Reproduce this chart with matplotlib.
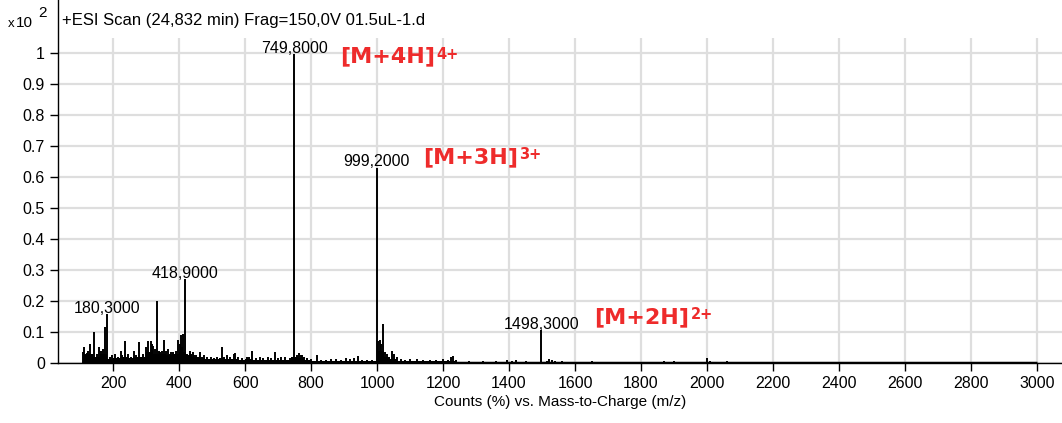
import matplotlib
matplotlib.use('Agg')
import matplotlib.pyplot as plt

# spectrum sticks (m/z, relative counts x10^2)
spike_mz = [110, 112, 117, 120, 125, 130, 136, 143, 150, 158, 163, 168, 176, 180.3,
            190, 198, 206, 214, 223, 228, 235, 241, 246, 255, 262, 270, 279, 286,
            291, 300, 307, 314, 318, 322, 328, 333, 338, 342, 348, 355, 360, 365,
            372, 377, 383, 390, 398, 402, 405, 409, 413, 418.9, 425, 432, 436, 441,
            446, 452, 457, 462, 470, 477, 485, 497, 505, 515, 529, 537, 545, 555,
            565, 570, 580, 592, 606, 613, 620, 632, 645, 655, 668, 680, 691, 700,
            710, 720, 735, 749.8, 756, 762, 768, 772, 780, 788, 800, 817, 830, 845,
            860, 875, 890, 905, 918, 930, 943, 955, 970, 985, 999.2, 1003, 1009,
            1013, 1017, 1024, 1030, 1037, 1044, 1050, 1060, 1072, 1085, 1100, 1120,
            1140, 1160, 1180, 1200, 1215, 1225, 1230, 1240, 1280, 1320, 1360, 1395,
            1410, 1420, 1450, 1498.3, 1515, 1522, 1530, 1540, 1560, 1600, 1650,
            1700, 1750, 1870, 1900, 2000, 2010, 2060]
spike_int = [0.035, 0.05, 0.03, 0.033, 0.04, 0.06, 0.025, 0.10, 0.03, 0.05, 0.04, 0.045, 0.116, 0.157,
             0.02, 0.025, 0.03, 0.02, 0.04, 0.025, 0.07, 0.02, 0.03, 0.02, 0.04, 0.025, 0.068, 0.02,
             0.03, 0.05, 0.07, 0.072, 0.06, 0.055, 0.045, 0.2, 0.04, 0.035, 0.04, 0.075, 0.04, 0.045,
             0.03, 0.035, 0.035, 0.04, 0.075, 0.06, 0.09, 0.05, 0.095, 0.27, 0.03, 0.04, 0.03, 0.035,
             0.025, 0.025, 0.02, 0.035, 0.02, 0.025, 0.02, 0.02, 0.015, 0.018, 0.05, 0.02, 0.025, 0.018,
             0.028, 0.032, 0.02, 0.015, 0.02, 0.018, 0.04, 0.015, 0.018, 0.015, 0.02, 0.015, 0.037, 0.015,
             0.018, 0.02, 0.015, 0.995, 0.025, 0.032, 0.025, 0.027, 0.02, 0.015, 0.012, 0.027, 0.01, 0.01,
             0.012, 0.012, 0.01, 0.015, 0.012, 0.015, 0.022, 0.01, 0.01, 0.01, 0.63, 0.07, 0.073,
             0.06, 0.125, 0.035, 0.03, 0.02, 0.038, 0.03, 0.02, 0.012, 0.01, 0.012, 0.012,
             0.01, 0.01, 0.01, 0.012, 0.01, 0.02, 0.022, 0.01, 0.006, 0.005, 0.005, 0.01,
             0.008, 0.01, 0.006, 0.105, 0.008, 0.012, 0.01, 0.006, 0.005, 0.004, 0.005,
             0.004, 0.004, 0.007, 0.008, 0.015, 0.006, 0.008]

# dense noise floor under the low mass region
floor_mz = [110, 130, 150, 170, 190, 210, 230, 250, 270, 290, 310, 330, 350, 370, 390,
            410, 430, 450, 470, 490, 510, 530, 550, 570, 590, 610, 630, 650, 670, 690,
            710, 730, 750, 770, 790, 810, 830, 850, 870, 890, 910, 930, 950, 970, 990,
            1010, 1030, 1050, 1070, 1090, 1110, 1130, 1150, 1170, 1190, 1210, 1230, 1250]
floor_int = [0.025, 0.03, 0.02, 0.03, 0.012, 0.015, 0.02, 0.015, 0.02, 0.02, 0.035, 0.03, 0.03, 0.025, 0.03,
             0.035, 0.025, 0.02, 0.015, 0.012, 0.012, 0.015, 0.012, 0.012, 0.01, 0.012, 0.01, 0.01, 0.01, 0.01,
             0.01, 0.01, 0.02, 0.015, 0.01, 0.008, 0.007, 0.006, 0.006, 0.006, 0.006, 0.006, 0.005, 0.005, 0.006,
             0.04, 0.02, 0.012, 0.006, 0.005, 0.005, 0.005, 0.005, 0.005, 0.005, 0.005, 0.008, 0.004]

scan_range = [110, 3000]

# labelled peaks
peak_mz = [180.3, 418.9, 749.8, 999.2, 1498.3]
peak_int = [0.157, 0.27, 0.995, 0.63, 0.105]

# charge state annotations
ion_names = ['[M+4H]', '[M+3H]', '[M+2H]']
ion_charges = ['4+', '3+', '2+']
ion_x = [888, 1139, 1658]
ion_y = [0.968, 0.645, 0.129]

xticks = list(range(200, 3001, 200))
yticks = [0, 0.1, 0.2, 0.3, 0.4, 0.5, 0.6, 0.7, 0.8, 0.9, 1]
ytick_labels = ['0', '0.1', '0.2', '0.3', '0.4', '0.5', '0.6', '0.7', '0.8', '0.9', '1']

plt.rcParams['font.family'] = ['Liberation Sans', 'DejaVu Sans']
fs = 11
red = '#ee2b2b'

fig = plt.figure(figsize=(10.62, 4.23), dpi=100)
ax = fig.add_axes([58 / 1062, 1 - 363 / 423, 1 - 58 / 1062, (363 - 38) / 423])

ax.fill_between(floor_mz, floor_int, step='mid', color='black', lw=0)
ax.vlines(spike_mz, 0, spike_int, color='black', lw=1.4)
ax.plot(scan_range, [0, 0], color='black', lw=2.5, solid_capstyle='butt')

for mz, h in zip(peak_mz, peak_int):
    lab = f'{mz:.4f}'.replace('.', ',')
    ax.annotate(lab, (mz, h), xytext=(0, -1), textcoords='offset points',
                ha='center', va='bottom', fontsize=11.5)

for name, ch, x, y in zip(ion_names, ion_charges, ion_x, ion_y):
    t = ax.text(x, y, name, color=red, fontsize=16, fontweight='bold',
                family='DejaVu Sans', ha='left', va='baseline')
    ax.annotate(ch, xy=(1, 1), xycoords=t, xytext=(1, 0), textcoords='offset points',
                ha='left', va='top', color=red, fontsize=10.5, fontweight='bold',
                family='DejaVu Sans')

ax.set_xlim(33, 3076)
ax.set_ylim(0, 1.048)
ax.set_xticks(xticks)
ax.set_yticks(yticks)
ax.set_yticklabels(ytick_labels)
ax.tick_params(labelsize=11.5, length=6, width=1, direction='out', color='black')
ax.grid(True, color='#dedede', lw=1.6)
ax.set_axisbelow(True)

for s in ['top', 'right']:
    ax.spines[s].set_visible(False)
ax.spines['left'].set_bounds(0, 363 / 310)
ax.spines['left'].set_linewidth(1)
ax.spines['bottom'].set_linewidth(1)

ax.set_xlabel('Counts (%) vs. Mass-to-Charge (m/z)', fontsize=fs, labelpad=3)

fig.text(62 / 1062, 1 - 25 / 423, '+ESI Scan (24,832 min) Frag=150,0V 01.5uL-1.d',
         fontsize=12, va='baseline', ha='left')
fig.text(8 / 1062, 1 - 27 / 423, 'x', fontsize=9.5, va='baseline', ha='left')
fig.text(16 / 1062, 1 - 27 / 423, '10', fontsize=fs, va='baseline', ha='left')
fig.text(38 / 1062, 1 - 17 / 423, '2', fontsize=fs, va='baseline', ha='left')

fig.savefig('out.png', dpi=100)
